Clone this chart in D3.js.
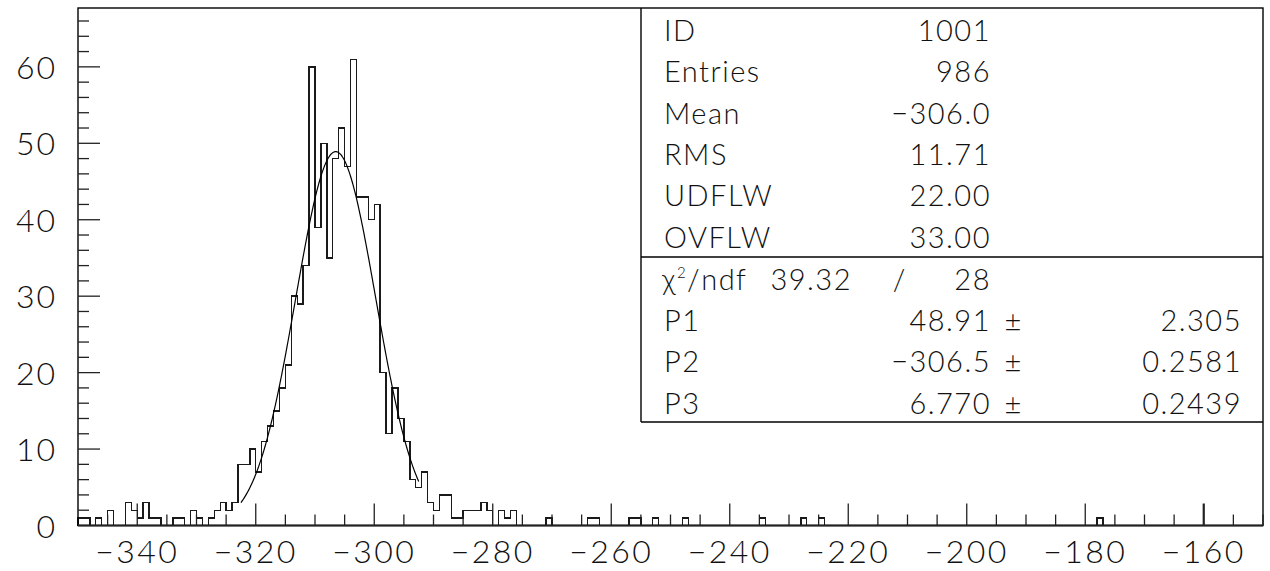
<!DOCTYPE html>
<html>
<head>
<meta charset="utf-8">
<script src="https://cdn.jsdelivr.net/npm/d3@7"></script>
<style>
  html, body { margin: 0; padding: 0; background: #fff; }
  svg { display: block; }
  text { font-family: "Lato", "DejaVu Sans", sans-serif; font-weight: 300; fill: #111; }
</style>
</head>
<body>
<svg id="chart" width="1270" height="571"></svg>
<script>
// ---------------- data ----------------
const xRange = [-350, -150];           // histogram range
const yRange = [0, 67.7];
const binWidth = 1;
// counts in 200 bins of width 1, starting at -350
const counts = [
  1,1,0,1,0,2,0,0,3,2, 1,3,1,1,0,0,1,1,0,2,
  1,0,1,2,3,2,3,8,8,10, 7,11,13,15,18,21,30,29,34,60,
  39,50,35,48,52,47,61,43,43,40, 42,20,12,18,14,11,6,5,7,3,
  2,4,4,1,1,2,2,2,3,2, 0,2,1,2,0,0,0,0,0,1,
  0,0,0,0,0,0,1,1,0,0, 0,0,0,1,1,0,0,1,0,0,
  0,0,1,0,0,0,0,0,0,0, 0,0,0,0,0,1,0,0,0,0,
  0,0,1,0,0,1,0,0,0,0, 0,0,0,0,0,0,0,0,0,0,
  0,0,0,0,0,0,0,0,0,0, 0,0,0,0,0,0,0,0,0,0,
  0,0,0,0,0,0,0,0,0,0, 0,0,1,0,0,0,0,0,0,0,
  0,0,0,0,0,0,0,0,0,0, 0,0,0,0,0,0,0,0,0,0
];
const xTickLabels = [-340, -320, -300, -280, -260, -240, -220, -200, -180, -160];
const yTickLabels = [0, 10, 20, 30, 40, 50, 60];
// Gaussian fit parameters
const fitParams = { P1: 48.91, P2: -306.5, P3: 6.770 };
const fitRange = [-322.5, -292.5];
// statistics box
const statLabels = ["ID", "Entries", "Mean", "RMS", "UDFLW", "OVFLW"];
const statValues = ["1001", "986", "\u2212306.0", "11.71", "22.00", "33.00"];
const chi2Value = "39.32", ndfValue = "28";
const parLabels = ["P1", "P2", "P3"];
const parValues = ["48.91", "\u2212306.5", "6.770"];
const parErrors = ["2.305", "0.2581", "0.2439"];

// ---------------- layout ----------------
const L = 78, R = 1263, T = 8, B = 525.5;
const svg = d3.select("#chart");
const x = d3.scaleLinear().domain(xRange).range([L, R]);
const y = d3.scaleLinear().domain(yRange).range([B, T]);

// histogram outline (step path built from the bin counts through the scales)
let dPath = `M${x(xRange[0])},${y(0)}`;
counts.forEach((c, i) => {
  const x0 = x(xRange[0] + i * binWidth), x1 = x(xRange[0] + (i + 1) * binWidth);
  dPath += `L${x0},${y(c)}L${x1},${y(c)}`;
});
dPath += `L${x(xRange[1])},${y(0)}`;
svg.append("path").attr("d", dPath).attr("fill", "none")
  .attr("stroke", "#1a1a1a").attr("stroke-width", 1.4).attr("shape-rendering", "crispEdges");

// fit curve
const gauss = v => fitParams.P1 * Math.exp(-0.5 * Math.pow((v - fitParams.P2) / fitParams.P3, 2));
const fitPts = d3.range(0, 301).map(k => fitRange[0] + (fitRange[1] - fitRange[0]) * k / 300);
svg.append("path").datum(fitPts)
  .attr("d", d3.line().x(v => x(v)).y(v => y(gauss(v))))
  .attr("fill", "none").attr("stroke", "#000").attr("stroke-width", 1.2);

// frame
svg.append("rect").attr("x", L).attr("y", T).attr("width", R - L).attr("height", B - T)
  .attr("fill", "none").attr("stroke", "#000").attr("stroke-width", 1.4);
svg.append("line").attr("x1", L).attr("x2", R).attr("y1", B).attr("y2", B)
  .attr("stroke", "#222").attr("stroke-width", 2.2);

// x ticks (inward, from bottom axis)
const xMinor = d3.range(-345, -149, 5);
svg.append("g").selectAll("line").data(xMinor).join("line")
  .attr("x1", d => x(d)).attr("x2", d => x(d))
  .attr("y1", B).attr("y2", d => B - (d % 20 === 0 ? 22 : 11))
  .attr("stroke", "#222").attr("stroke-width", d => d === -160 ? 2.2 : 1.3);
// y ticks (inward, from left axis)
const yMinor = d3.range(2, 67, 2);
svg.append("g").selectAll("line").data(yMinor).join("line")
  .attr("x1", L).attr("x2", d => L + (d % 10 === 0 ? 22 : 11))
  .attr("y1", d => y(d)).attr("y2", d => y(d))
  .attr("stroke", "#222").attr("stroke-width", 1.3);

// axis labels
const fmt = v => (v < 0 ? "\u2212" + Math.abs(v) : String(v));
svg.append("g").selectAll("text").data(xTickLabels).join("text")
  .attr("x", d => x(d)).attr("y", 563)
  .attr("text-anchor", "middle").attr("font-size", 32).attr("letter-spacing", 2.5)
  .text(fmt);
svg.append("g").selectAll("text").data(yTickLabels).join("text")
  .attr("x", 57).attr("y", d => y(d) + 12)
  .attr("text-anchor", "end").attr("font-size", 32).attr("letter-spacing", 2)
  .text(fmt);

// statistics box
const BX = 641, BDiv = 257, BB = 422;
const box = svg.append("g");
box.append("line").attr("x1", BX).attr("x2", BX).attr("y1", T).attr("y2", BB)
  .attr("stroke", "#000").attr("stroke-width", 1.4);
box.append("line").attr("x1", BX).attr("x2", R).attr("y1", BDiv).attr("y2", BDiv)
  .attr("stroke", "#000").attr("stroke-width", 1.4);
box.append("line").attr("x1", BX).attr("x2", R).attr("y1", BB).attr("y2", BB)
  .attr("stroke", "#000").attr("stroke-width", 1.4);

const rowY = i => 41 + i * 41.3;
const fs = 29, ls = 1.5;
statLabels.forEach((lab, i) => {
  box.append("text").attr("x", 664).attr("y", rowY(i)).attr("font-size", fs)
    .attr("letter-spacing", ls).text(lab);
  box.append("text").attr("x", 991).attr("y", rowY(i)).attr("font-size", fs)
    .attr("letter-spacing", ls).attr("text-anchor", "end").text(statValues[i]);
});
// chi2 row
{
  const yy = rowY(6) + 1;
  const t = box.append("text").attr("x", 662).attr("y", yy).attr("font-size", fs).attr("letter-spacing", ls);
  t.append("tspan").text("\u03c7");
  t.append("tspan").attr("dy", -12).attr("font-size", 15).text("2");
  t.append("tspan").attr("dy", 12).text("/ndf");
  box.append("text").attr("x", 852).attr("y", yy).attr("font-size", fs).attr("letter-spacing", ls)
    .attr("text-anchor", "end").text(chi2Value);
  box.append("text").attr("x", 899).attr("y", yy).attr("font-size", fs)
    .attr("text-anchor", "middle").text("/");
  box.append("text").attr("x", 991).attr("y", yy).attr("font-size", fs).attr("letter-spacing", ls)
    .attr("text-anchor", "end").text(ndfValue);
}
parLabels.forEach((lab, i) => {
  const yy = rowY(7 + i) + 1;
  box.append("text").attr("x", 664).attr("y", yy).attr("font-size", fs).attr("letter-spacing", ls).text(lab);
  box.append("text").attr("x", 991).attr("y", yy).attr("font-size", fs).attr("letter-spacing", ls)
    .attr("text-anchor", "end").text(parValues[i]);
  box.append("text").attr("x", 1013).attr("y", yy).attr("font-size", fs)
    .attr("text-anchor", "middle").text("\u00b1");
  box.append("text").attr("x", 1242).attr("y", yy).attr("font-size", fs).attr("letter-spacing", ls)
    .attr("text-anchor", "end").text(parErrors[i]);
});
</script>
</body>
</html>
